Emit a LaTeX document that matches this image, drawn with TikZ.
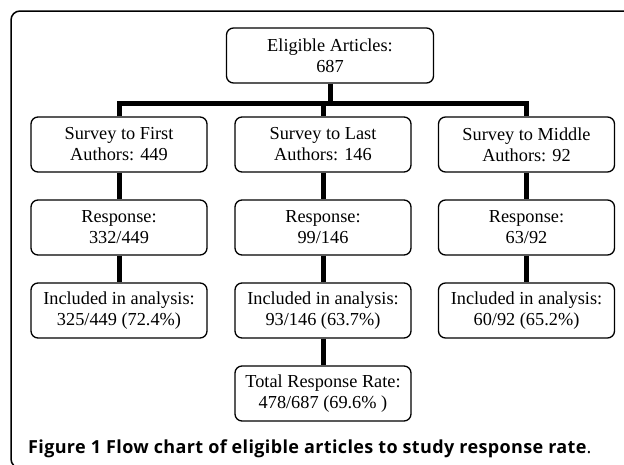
\documentclass[tikz,border=0pt]{standalone}
\usepackage{fontspec}
\setmainfont{Liberation Serif}
\newfontfamily\capfont[LetterSpace=2]{Open Sans}
\tikzset{
  stage/.style={draw,line width=1.3pt,rounded corners=7pt,minimum width=176pt,
    minimum height=55pt,align=center,inner sep=0pt,
    font=\fontsize{18.3}{21}\selectfont},
  link/.style={line width=5pt}
}
\begin{document}
\begin{tikzpicture}[x=1pt,y=-1pt]
\useasboundingbox (0,0) rectangle (624,464);
\begin{scope}
\clip (0,0) rectangle (624,464);
\draw[line width=1.5pt,rounded corners=9pt] (11,11) rectangle (660,468);
\end{scope}
% top box
\node[stage,minimum width=207pt] (eligible) at (330,55.5) {Eligible Articles:\\687};
% survey row
\node[stage] (first) at (119,144.5) {Survey to First\\Authors: 449};
\node[stage] (last) at (323,144.5) {Survey to Last\\Authors: 146};
\node[stage] (middle) at (526.5,144.5) {Survey to Middle\\Authors: 92};
% responses
\node[stage] (respfirst) at (119,227.5) {Response:\\332/449};
\node[stage] (resplast) at (323,227.5) {Response:\\99/146};
\node[stage] (respmiddle) at (526.5,227.5) {Response:\\63/92};
% included
\node[stage] (inclfirst) at (119,310.5) {Included in analysis:\\325/449 (72.4\%)};
\node[stage] (incllast) at (323,310.5) {Included in analysis:\\93/146 (63.7\%)};
\node[stage] (inclmiddle) at (526.5,310.5) {Included in analysis:\\60/92 (65.2\%)};
\node[stage] (total) at (323,393.5) {Total Response Rate:\\478/687 (69.6\% )};
% connectors
\coordinate (split) at (eligible.south |- 0,103.5);
\draw[link] (eligible.south) -- (split);
\draw[link] (first.north) |- (split) -| (middle.north);
\draw[link] (last.north) -- (last.north |- split);
\foreach \a/\b in {first/respfirst,last/resplast,middle/respmiddle,
  respfirst/inclfirst,resplast/incllast,respmiddle/inclmiddle,incllast/total}
  \draw[link] (\a.south) -- (\b.north);
\node[anchor=base west,inner sep=0pt,font=\capfont\fontsize{18}{20}\selectfont] (caption) at (28,453)
  {\bfseries Figure 1 Flow chart of eligible articles to study response rate\mdseries .};
\end{tikzpicture}
\end{document}
